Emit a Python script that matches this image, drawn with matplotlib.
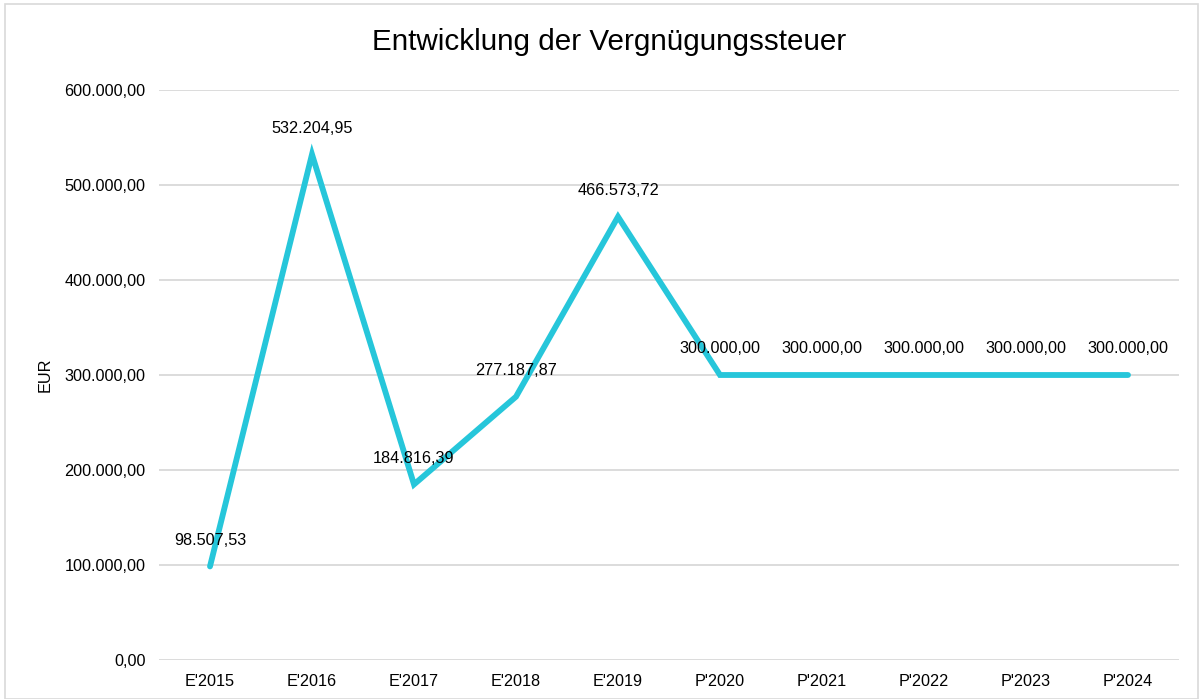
import matplotlib
matplotlib.use("Agg")
import matplotlib.pyplot as plt
from matplotlib.patches import Rectangle

categories = ["E'2015", "E'2016", "E'2017", "E'2018", "E'2019",
              "P'2020", "P'2021", "P'2022", "P'2023", "P'2024"]
values = [98507.53, 532204.95, 184816.39, 277187.87, 466573.72,
          300000.00, 300000.00, 300000.00, 300000.00, 300000.00]
yticks = [0, 100000, 200000, 300000, 400000, 500000, 600000]

def de_fmt(v):
    s = f"{v:,.2f}"
    return s.replace(",", "X").replace(".", ",").replace("X", ".")

plt.rcParams['font.family'] = ['Liberation Sans', 'DejaVu Sans']

fig = plt.figure(figsize=(12.03, 6.99), dpi=100)
ax = fig.add_axes([159/1203, 1 - 660/699, 1020/1203, 570/699])

x = list(range(len(categories)))
ax.plot(x, values, color='#26C6DA', linewidth=4.2, solid_capstyle='round',
        solid_joinstyle='miter', zorder=3)

for xi, v in zip(x, values):
    ax.annotate(de_fmt(v), (xi, v), xytext=(0, 19), textcoords='offset points',
                ha='center', va='center', fontsize=11.7, color='#000000', zorder=4)

ax.set_xlim(-0.5, len(categories) - 0.5)
ax.set_ylim(0, 600000)
ax.set_yticks(yticks)
ax.set_yticklabels([de_fmt(t) for t in yticks], fontsize=11.7)
ax.set_xticks(x)
ax.set_xticklabels(categories, fontsize=11.7)
ax.tick_params(length=0, pad=10)
ax.tick_params(axis='y', pad=9.7)
ax.grid(axis='y', color='#D9D9D9', linewidth=1.3)
ax.set_axisbelow(True)
for s in ax.spines.values():
    s.set_visible(False)

ax.set_ylabel("EUR", fontsize=11.7)
ax.yaxis.set_label_coords(-106/1020, 0.5)
fig.text(609/1203, 1 - 42/699, "Entwicklung der Vergnügungssteuer", ha='center', va='center',
         fontsize=21.3, color='#000000')

fig.patches.append(Rectangle((5/1203, 0), 1193/1203, 1 - 4/699, transform=fig.transFigure,
                             fill=False, edgecolor='#D9D9D9', linewidth=1.2))

fig.savefig("out.png", dpi=100)
